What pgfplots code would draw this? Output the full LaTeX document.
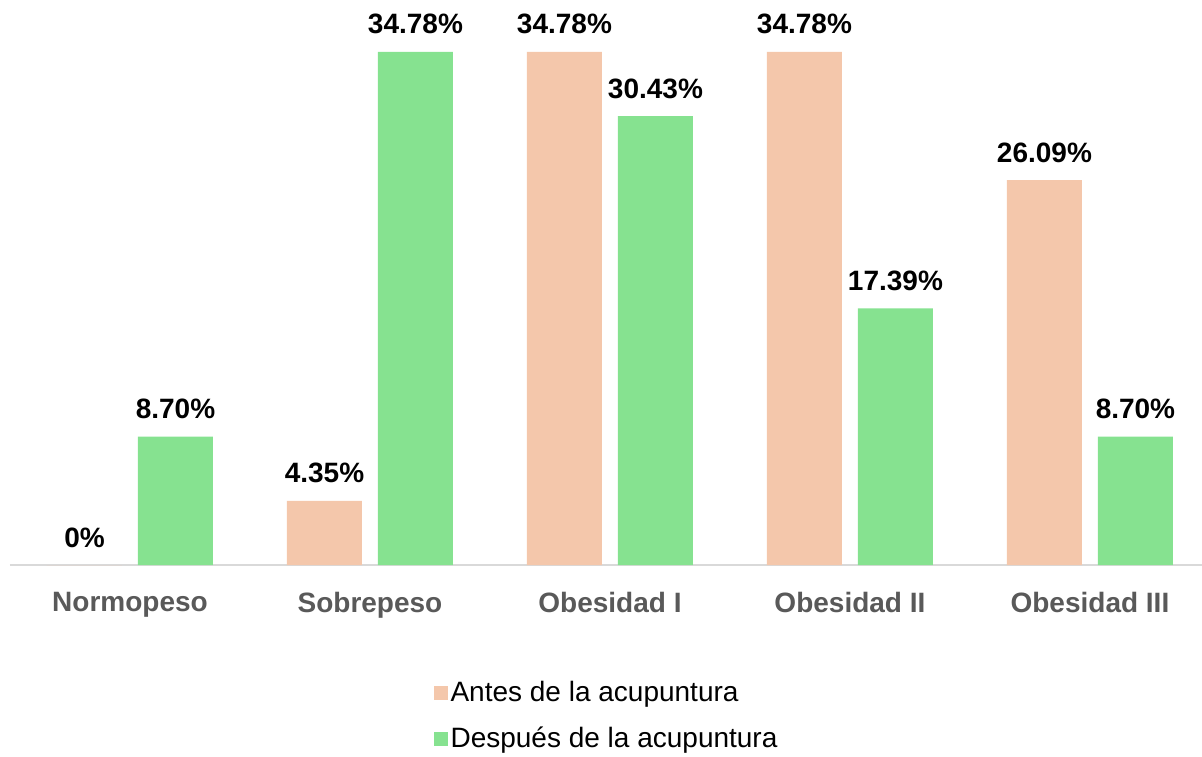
\documentclass[border=0pt]{standalone}
\usepackage{pgfplots}
\pgfplotsset{compat=1.18}
\usepackage{fontspec}
\setmainfont{Liberation Sans}
\definecolor{antes}{HTML}{F4C7AB}
\definecolor{despues}{HTML}{86E290}
\definecolor{ticktxt}{HTML}{595959}
\begin{document}
\begin{tikzpicture}
\useasboundingbox (0,0) rectangle (601pt,378pt);
\begin{axis}[
    at={(5pt,95.5pt)}, anchor=south west,
    scale only axis,
    width=596pt, height=282.5pt,
    ybar=8pt, bar width=37.5pt,
    xmin=-0.5, xmax=4.467,
    ymin=0, ymax=38.3,
    axis x line*=bottom,
    x axis line style={draw=black!15, line width=1pt, -},
    hide y axis,
    xtick=data,
    xticklabels={Normopeso, Sobrepeso, Obesidad I, Obesidad II, Obesidad III},
    xtick style={draw=none},
    xticklabel style={font=\fontsize{14}{16}\selectfont\bfseries, text=ticktxt, yshift=-6pt},
    nodes near coords,
    point meta=explicit symbolic,
    every node near coord/.append style={font=\fontsize{14}{16}\selectfont\bfseries, text=black, anchor=base, yshift=9pt, inner sep=0pt},
    legend style={at={(axis description cs:0.355,-0.267)}, anchor=west, draw=none,
        inner sep=0pt, row sep=8pt, font=\fontsize{14}{16}\selectfont,
        nodes={inner sep=1.5pt}},
    legend cell align=left,
    legend image code/.code={\fill[#1] (0pt,-3.5pt) rectangle (7pt,3.5pt);},
]
\addplot[fill=antes, draw=none] coordinates {
    (0,0) [0\%] (1,4.35) [4.35\%] (2,34.78) [34.78\%] (3,34.78) [34.78\%] (4,26.09) [26.09\%]
};
\addplot[fill=despues, draw=none] coordinates {
    (0,8.70) [8.70\%] (1,34.78) [34.78\%] (2,30.43) [30.43\%] (3,17.39) [17.39\%] (4,8.70) [8.70\%]
};
\legend{Antes de la acupuntura, Después de la acupuntura}
\end{axis}
\end{tikzpicture}
\end{document}
